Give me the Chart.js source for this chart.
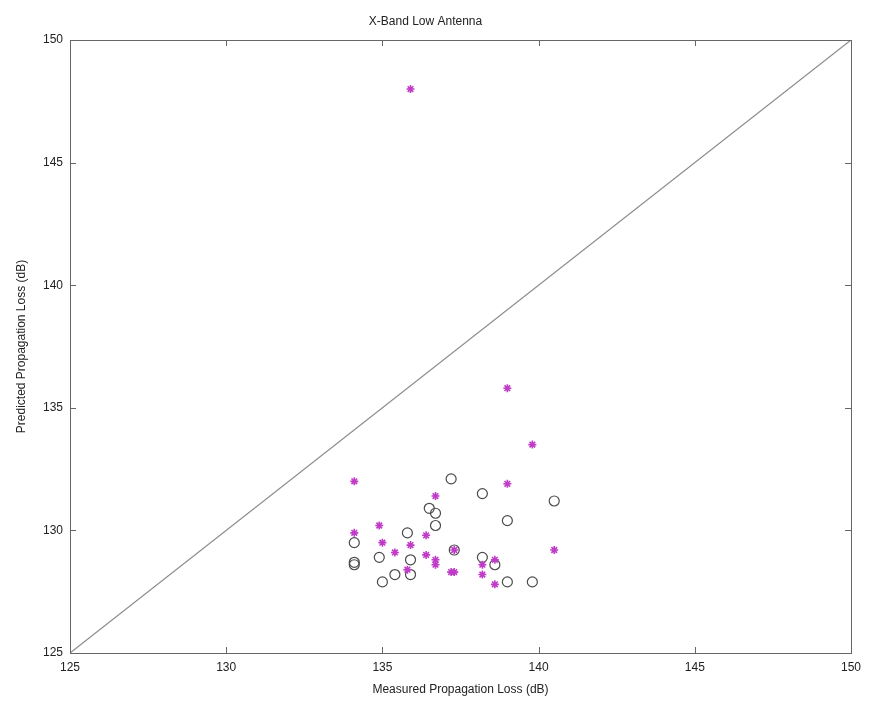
<!DOCTYPE html>
<html>
<head>
<meta charset="utf-8">
<script src="https://cdn.jsdelivr.net/npm/chart.js@4.4.1/dist/chart.umd.min.js"></script>
<style>
html,body{margin:0;padding:0;background:#fff;}
#wrap{width:872px;height:706px;}
</style>
</head>
<body>
<div id="wrap"><canvas id="c" width="872" height="706"></canvas></div>
<script>
// Data
const chartTitle = 'X-Band Low Antenna';
const xTitle = 'Measured Propagation Loss (dB)';
const yTitle = 'Predicted Propagation Loss (dB)';
const tickValues = [125, 130, 135, 140, 145, 150];

// Magenta "*" series (measured, predicted)
const starMeasured = [134.1, 139.0, 136.7, 134.1, 134.9, 135.0, 135.4, 135.9, 136.4, 136.4, 136.7, 136.7, 135.8, 137.3, 137.3, 137.2, 138.2, 138.2, 138.6, 138.6, 140.5, 135.9, 139.0, 139.8];
const starPredicted = [132.0, 131.9, 131.4, 129.9, 130.2, 129.5, 129.1, 129.4, 129.8, 129.0, 128.8, 128.6, 128.4, 129.2, 128.3, 128.3, 128.6, 128.2, 128.8, 127.8, 129.2, 148.0, 135.8, 133.5];

// Black "o" series (measured, predicted)
const circMeasured = [134.1, 134.1, 134.1, 134.9, 135.0, 135.4, 135.8, 135.9, 135.9, 136.5, 136.7, 136.7, 137.2, 138.2, 140.5, 139.0, 138.2, 138.6, 139.0, 139.8, 137.3];
const circPredicted = [129.5, 128.6, 128.7, 128.9, 127.9, 128.2, 129.9, 128.8, 128.2, 130.9, 130.7, 130.2, 132.1, 131.5, 131.2, 130.4, 128.9, 128.6, 127.9, 127.9, 129.2];

// Reference line y = x
const lineX = [125, 150];
const lineY = [125, 150];

const toPts = (xs, ys) => xs.map((x, i) => ({x: x, y: ys[i]}));

const inwardTicks = {
  id: 'inwardTicks',
  afterDatasetsDraw(chart) {
    const ctx = chart.ctx;
    const a = chart.chartArea;
    const xs = chart.scales.x, ys = chart.scales.y;
    ctx.save();
    ctx.strokeStyle = '#666';
    ctx.lineWidth = 1;
    ctx.beginPath();
    const L = 6;
    tickValues.forEach(v => {
      const px = Math.round(xs.getPixelForValue(v)) + 0.5;
      ctx.moveTo(px, a.bottom); ctx.lineTo(px, a.bottom - L);
      ctx.moveTo(px, a.top); ctx.lineTo(px, a.top + L);
      const py = Math.round(ys.getPixelForValue(v)) + 0.5;
      ctx.moveTo(a.left, py); ctx.lineTo(a.left + L, py);
      ctx.moveTo(a.right, py); ctx.lineTo(a.right - L, py);
    });
    ctx.stroke();
    ctx.strokeRect(Math.round(a.left) + 0.5, Math.round(a.top) + 0.5, Math.round(a.right - a.left), Math.round(a.bottom - a.top));
    ctx.restore();
  }
};

const fontFamily = "'Liberation Sans', Arial, sans-serif";

new Chart(document.getElementById('c'), {
  type: 'scatter',
  data: {
    datasets: [
      {
        type: 'line',
        data: toPts(lineX, lineY),
        borderColor: '#8a8a8a',
        borderWidth: 1.2,
        pointRadius: 0,
        fill: false,
        order: 3
      },
      {
        data: toPts(circMeasured, circPredicted),
        pointStyle: 'circle',
        pointRadius: 5,
        borderColor: '#4a4a4a',
        backgroundColor: 'rgba(0,0,0,0)',
        borderWidth: 1.2,
        order: 2
      },
      {
        data: toPts(starMeasured, starPredicted),
        pointStyle: 'star',
        pointRadius: 4,
        borderColor: '#c03cc8',
        backgroundColor: '#c03cc8',
        borderWidth: 1.6,
        order: 1
      }
    ]
  },
  options: {
    responsive: false,
    animation: false,
    events: [],
    layout: { padding: { left: 0, right: 21, top: 0, bottom: 0 } },
    plugins: {
      legend: { display: false },
      tooltip: { enabled: false },
      title: {
        display: true,
        text: chartTitle,
        color: '#222',
        font: { family: fontFamily, size: 12, weight: 'normal' },
        padding: { top: 14, bottom: 11.6 }
      }
    },
    scales: {
      x: {
        type: 'linear',
        min: 125, max: 150,
        afterBuildTicks: s => { s.ticks = tickValues.map(v => ({value: v})); },
        afterFit: s => { s.height = 53; },
        grid: { display: false, drawTicks: false },
        border: { display: false },
        ticks: { color: '#222', font: { family: fontFamily, size: 12 }, padding: 7, maxRotation: 0 },
        title: { display: true, text: xTitle, color: '#222', font: { family: fontFamily, size: 12 }, padding: { top: 0, bottom: 9 } }
      },
      y: {
        type: 'linear',
        min: 125, max: 150,
        afterBuildTicks: s => { s.ticks = tickValues.map(v => ({value: v})); },
        afterFit: s => { s.width = 70; },
        grid: { display: false, drawTicks: false },
        border: { display: false },
        ticks: { color: '#222', font: { family: fontFamily, size: 12 }, padding: 7 },
        title: { display: true, text: yTitle, color: '#222', font: { family: fontFamily, size: 12 }, padding: { top: 14, bottom: 0 } }
      }
    }
  },
  plugins: [inwardTicks]
});
</script>
</body>
</html>
